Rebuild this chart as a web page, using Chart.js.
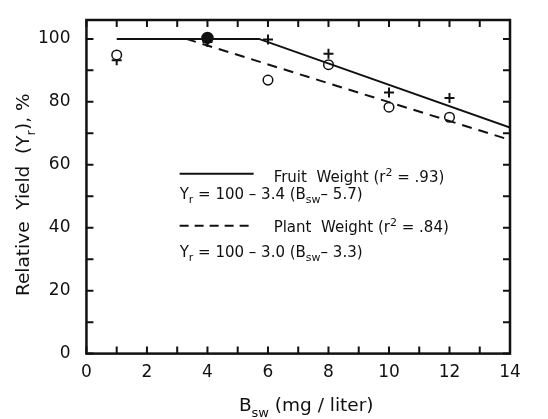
<!DOCTYPE html>
<html><head><meta charset="utf-8">
<script src="https://cdn.jsdelivr.net/npm/chart.js@4.4.1/dist/chart.umd.min.js"></script>
<style>html,body{margin:0;padding:0;background:#fff}#wrap{width:548px;height:419px}</style>
</head><body><div id="wrap"><canvas id="c"></canvas></div>
<script>
// Data
const plantX = [1, 4, 6, 8, 10, 12];
const plantY = [94.9, 100.3, 86.9, 91.8, 78.3, 75.1];
const fruitX = [1, 4, 6, 8, 10, 12];
const fruitY = [93.2, 99.0, 99.8, 95.3, 83.0, 81.2];
const fruitLineX = [1, 5.7, 14];
const fruitLineY = [100, 100, 71.8];
const plantLineX = [3.3, 14];
const plantLineY = [100, 67.9];
const xTicks = [0, 2, 4, 6, 8, 10, 12, 14];
const yTicks = [0, 20, 40, 60, 80, 100];

const pts = (xs, ys) => xs.map((x, i) => ({x: x, y: ys[i]}));
const FONT = "'DejaVu Sans', sans-serif";
const INK = '#111';

function drawRich(ctx, x, y, parts, size, align) {
  const w = parts.reduce((s, p) => {
    ctx.font = (p[1] ? Math.round(size * 0.7) : size) + 'px ' + FONT;
    return s + ctx.measureText(p[0]).width;
  }, 0);
  let cx = align === 'center' ? x - w / 2 : x;
  ctx.textBaseline = 'alphabetic';
  ctx.textAlign = 'left';
  parts.forEach(p => {
    const s = p[1] ? Math.round(size * 0.7) : size;
    ctx.font = s + 'px ' + FONT;
    let dy = 0;
    if (p[1] === 'sub') dy = size * 0.3;
    if (p[1] === 'sup') dy = -size * 0.4;
    ctx.fillText(p[0], cx, y + dy);
    cx += ctx.measureText(p[0]).width;
  });
}

const framePlugin = {
  id: 'frame',
  afterDraw(chart) {
    const {ctx, chartArea: a, scales: {x, y}} = chart;
    ctx.save();
    ctx.strokeStyle = INK;
    ctx.fillStyle = INK;
    ctx.lineWidth = 2.5;
    ctx.strokeRect(a.left, a.top, a.right - a.left, a.bottom - a.top);
    ctx.lineWidth = 2;
    const tl = 7;
    ctx.beginPath();
    for (let v = 0; v <= 14; v += 1) {
      const px = x.getPixelForValue(v);
      ctx.moveTo(px, a.bottom); ctx.lineTo(px, a.bottom - tl);
      ctx.moveTo(px, a.top); ctx.lineTo(px, a.top + tl);
    }
    for (let v = 0; v <= 100; v += 10) {
      const py = y.getPixelForValue(v);
      ctx.moveTo(a.left, py); ctx.lineTo(a.left + tl, py);
      ctx.moveTo(a.right, py); ctx.lineTo(a.right - tl, py);
    }
    ctx.stroke();

    // in-plot key
    const sz = 15;
    const kx = x.getPixelForValue(3.08);
    const r1 = y.getPixelForValue(54.6);
    ctx.lineWidth = 2;
    ctx.beginPath();
    ctx.moveTo(kx, r1 - 8); ctx.lineTo(kx + 74, r1 - 8); ctx.stroke();
    drawRich(ctx, kx + 94, r1, [['Fruit  Weight (r', null], ['2', 'sup'], [' = .93)', null]], sz, 'left');
    const r2 = y.getPixelForValue(49.2);
    drawRich(ctx, kx, r2, [['Y', null], ['r', 'sub'], [' = 100 – 3.4 (B', null], ['sw', 'sub'], ['– 5.7)', null]], sz, 'left');
    const r3 = y.getPixelForValue(38.7);
    ctx.setLineDash([9, 6]);
    ctx.beginPath();
    ctx.moveTo(kx, r3 - 6); ctx.lineTo(kx + 74, r3 - 6); ctx.stroke();
    ctx.setLineDash([]);
    drawRich(ctx, kx + 94, r3, [['Plant  Weight (r', null], ['2', 'sup'], [' = .84)', null]], sz, 'left');
    const r4 = y.getPixelForValue(30.7);
    drawRich(ctx, kx, r4, [['Y', null], ['r', 'sub'], [' = 100 – 3.0 (B', null], ['sw', 'sub'], ['– 3.3)', null]], sz, 'left');

    // axis titles
    const ts = 18.5;
    drawRich(ctx, (a.left + a.right) / 2 + 8, 411, [['B', null], ['sw', 'sub'], [' (mg / liter)', null]], ts, 'center');
    ctx.translate(29, (a.top + a.bottom) / 2 + 8);
    ctx.rotate(-Math.PI / 2);
    drawRich(ctx, 0, 0, [['Relative  Yield  (Y', null], ['r', 'sub'], ['), %', null]], ts, 'center');
    ctx.restore();
  }
};

new Chart(document.getElementById('c'), {
  type: 'scatter',
  data: {
    datasets: [
      {label: 'Fruit Weight fit', data: pts(fruitLineX, fruitLineY), showLine: true, borderColor: INK, borderWidth: 2, pointRadius: 0, fill: false},
      {label: 'Plant Weight fit', data: pts(plantLineX, plantLineY), showLine: true, borderColor: INK, borderWidth: 2, borderDash: [10, 7], pointRadius: 0, fill: false},
      {label: 'Plant Weight', data: pts(plantX, plantY), pointStyle: 'circle', pointRadius: plantX.map(v => v === 4 ? 5.5 : 4.8), borderColor: INK, borderWidth: 1.5, backgroundColor: plantX.map(v => v === 4 ? INK : '#fff')},
      {label: 'Fruit Weight', data: pts(fruitX, fruitY), pointStyle: 'cross', pointRadius: 5, borderColor: INK, borderWidth: 2}
    ]
  },
  options: {
    responsive: true,
    maintainAspectRatio: false,
    animation: false,
    layout: {padding: {left: 22, right: 38, top: 20, bottom: 27}},
    plugins: {legend: {display: false}, tooltip: {enabled: false}},
    scales: {
      x: {
        type: 'linear', min: 0, max: 14,
        afterBuildTicks: s => { s.ticks = xTicks.map(v => ({value: v})); },
        ticks: {color: INK, font: {family: FONT, size: 17}, padding: 9, maxRotation: 0},
        grid: {display: false, drawTicks: false}, border: {display: false}
      },
      y: {
        type: 'linear', min: 0, max: 106,
        afterBuildTicks: s => { s.ticks = yTicks.map(v => ({value: v})); },
        afterFit: s => { s.paddingTop = 0; },
        ticks: {color: INK, font: {family: FONT, size: 17}, padding: 16},
        grid: {display: false, drawTicks: false}, border: {display: false}
      }
    }
  },
  plugins: [framePlugin]
});
</script></body></html>
